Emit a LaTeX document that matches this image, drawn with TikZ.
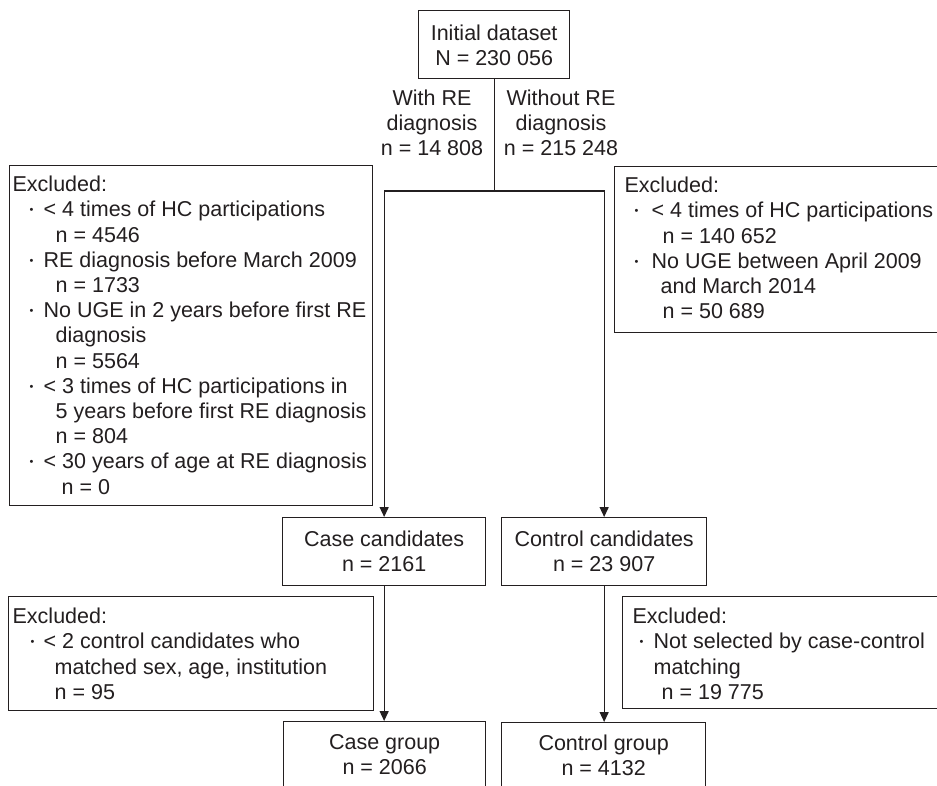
\documentclass[tikz,border=0pt]{standalone}
\usepackage{fontspec}
\setmainfont{Liberation Sans}
\usetikzlibrary{arrows.meta}
\definecolor{ink}{HTML}{231F20}
\newcommand\bx[3]{\parbox[c][#2][t]{#1}{\lineskiplimit=-100pt\baselineskip=25.2pt\parindent=0pt #3}}
\newcommand\ind[1]{\hspace*{#1}}
\newcommand\fl[1]{\rule{0pt}{#1}}
% bullet: #1 = centre offset of the dot, #2 = text offset
\newcommand\bul[2]{\hspace*{#1}\makebox[0pt][c]{\raisebox{3.2pt}{\fontsize{11}{11}\selectfont •}}\hspace*{\dimexpr #2-#1\relax}}
\begin{document}
\begin{tikzpicture}[x=1pt,y=-1pt,
  every node/.style={font=\fontsize{21.5}{25.2}\selectfont, text=ink, inner sep=0pt},
  xbox/.style={draw=ink, line width=1.3pt, anchor=north west},
  lbl/.style={anchor=north},
  conn/.style={draw=ink, line width=1.3pt},
  arr/.style={conn, -{Triangle[width=9pt,length=10pt]}}]
\useasboundingbox (0,0) rectangle (937,785);
\clip (0,0) rectangle (937,785);
\fill[white] (0,0) rectangle (937,785);

% top box
\node[xbox] (init) at (418,10) {\bx{151pt}{68pt}{\centering\fl{30pt}Initial dataset\\N = 230 056}};

% branch labels
\node[lbl] (lwith) at (432,78) {\bx{140pt}{85pt}{\centering\fl{27pt}With RE\\diagnosis\\n = 14 808}};
\node[lbl] (lwithout) at (561,78) {\bx{140pt}{85pt}{\centering\fl{27pt}Without RE\\diagnosis\\n = 215 248}};

% excluded boxes (upper)
\node[xbox] (exl) at (9,165) {\bx{363pt}{340pt}{\raggedright\fl{26pt}\ind{3pt}Excluded:\\
\bul{22pt}{34pt}< 4 times of HC participations\\
\ind{46pt}n = 4546\\
\bul{22pt}{34pt}RE diagnosis before March 2009\\
\ind{46pt}n = 1733\\
\bul{22pt}{34pt}No UGE in 2 years before first RE\\
\ind{46pt}diagnosis\\
\ind{46pt}n = 5564\\
\bul{22pt}{34pt}< 3 times of HC participations in\\
\ind{46pt}5 years before first RE diagnosis\\
\ind{46pt}n = 804\\
\bul{22pt}{34pt}< 30 years of age at RE diagnosis\\
\ind{52pt}n = 0}};

\node[xbox] (exr) at (614,166) {\bx{400pt}{166pt}{\raggedright\fl{26pt}\ind{10pt}Excluded:\\
\bul{22pt}{37pt}< 4 times of HC participations\\
\ind{48pt}n = 140 652\\
\bul{22pt}{37pt}No UGE between April 2009\\
\ind{46pt}and March 2014\\
\ind{48pt}n = 50 689}};

% candidates
\node[xbox] (casecand) at (282,517) {\bx{203pt}{68pt}{\centering\fl{29pt}Case candidates\\n = 2161}};
\node[xbox] (ctrlcand) at (501,517) {\bx{205pt}{68pt}{\centering\fl{29pt}Control candidates\\n = 23 907}};

% excluded boxes (lower)
\node[xbox] (exbl) at (8,596) {\bx{365pt}{114pt}{\raggedright\fl{27pt}\ind{4pt}Excluded:\\
\bul{24pt}{35pt}< 2 control candidates who\\
\ind{46pt}matched sex, age, institution\\
\ind{46pt}n = 95}};

\node[xbox] (exbr) at (622,596) {\bx{400pt}{112pt}{\raggedright\fl{27pt}\ind{10pt}Excluded:\\
\bul{19pt}{31pt}Not selected by case-control\\
\ind{31pt}matching\\
\ind{39pt}n = 19 775}};

% groups
\node[xbox] (casegrp) at (283,721) {\bx{202pt}{100pt}{\centering\fl{28pt}Case group\\n = 2066}};
\node[xbox] (ctrlgrp) at (501,722) {\bx{204pt}{100pt}{\centering\fl{28pt}Control group\\n = 4132}};

% connectors
\coordinate (jn) at (init.south |- 0,191);
\draw[conn] (init.south) -- (jn);
\draw[arr] (jn) -| (casecand.north);
\draw[arr] (jn) -| (ctrlcand.north);
\draw[arr] (casecand.south) -- (casecand.south |- casegrp.north);
\draw[arr] (ctrlcand.south) -- (ctrlcand.south |- ctrlgrp.north);
\end{tikzpicture}
\end{document}
